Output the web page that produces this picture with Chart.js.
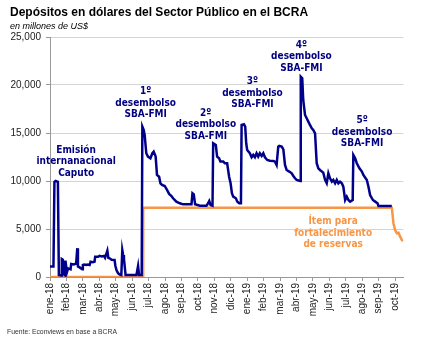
<!DOCTYPE html>
<html>
<head>
<meta charset="utf-8">
<script src="https://cdn.jsdelivr.net/npm/chart.js@4.4.1/dist/chart.umd.min.js"></script>
<style>
  html, body { margin: 0; padding: 0; background: #fff; }
  #chart { display: block; }
</style>
</head>
<body>
<canvas id="chart" width="445" height="339"></canvas>
<script>
// eje x: meses transcurridos desde ene-18 (0 = 1 ene 2018)
const meses = ['ene-18', 'feb-18', 'mar-18', 'abr-18', 'may-18', 'jun-18', 'jul-18', 'ago-18', 'sep-18', 'oct-18', 'nov-18', 'dic-18',
  'ene-19', 'feb-19', 'mar-19', 'abr-19', 'may-19', 'jun-19', 'jul-19', 'ago-19', 'sep-19', 'oct-19']

// depósitos en dólares del sector público (millones de US$)
const mesDep = [
  0.00, 0.21, 0.27, 0.34, 0.48, 0.54, 0.68, 0.72, 0.78, 0.82, 0.90, 0.94, 1.03, 1.10, 1.25, 1.29, 1.45, 1.59, 1.66, 1.70,
  1.80, 1.96, 2.00, 2.10, 2.21, 2.30, 2.41, 2.47, 2.60, 2.71, 2.75, 2.92, 3.02, 3.15, 3.28, 3.35, 3.49, 3.55, 3.63, 3.75,
  3.93, 3.98, 4.05, 4.14, 4.25, 4.34, 4.40, 4.45, 4.50, 4.60, 5.00, 5.26, 5.36, 5.42, 5.58,
  5.62, 5.70, 5.76, 5.86, 5.96, 6.11, 6.23, 6.31, 6.43, 6.51, 6.64, 6.72, 6.82, 6.98, 7.12, 7.25, 7.39, 7.49, 7.69, 7.90,
  8.10, 8.61, 8.67, 8.75, 8.83, 9.12, 9.52, 9.62, 9.69, 9.77, 9.89,
  9.93, 9.97, 10.09, 10.17, 10.29, 10.37, 10.54, 10.64, 10.78, 10.90, 10.99, 11.07, 11.15, 11.31, 11.40, 11.52, 11.62,
  11.66, 11.80, 11.88, 11.94, 12.00, 12.16, 12.27, 12.37, 12.47, 12.57, 12.67, 12.77, 12.88, 12.98, 13.08, 13.22, 13.38,
  13.59, 13.69, 13.79, 13.89, 13.95, 14.10, 14.20, 14.30, 14.40, 14.56, 14.71, 14.81, 14.91, 15.01, 15.22,
  15.26, 15.35, 15.41, 15.52, 15.62, 15.72, 15.82, 15.93, 16.02, 16.13, 16.23, 16.33, 16.43, 16.63, 16.74, 16.84, 16.94,
  17.04, 17.15, 17.24, 17.35, 17.45, 17.55, 17.65, 17.76, 17.85, 17.96, 18.06, 18.16, 18.26, 18.42,
  18.46, 18.57, 18.67, 18.83, 18.98, 19.07, 19.28, 19.38, 19.48, 19.65, 19.79, 19.93, 19.99, 20.80
]
const depositos = [
  1100, 1100, 9900, 10000, 9900, 200, 150, 1870, 1800, 300, 200, 1700, 500, 900, 800, 1350, 1300, 1400, 3000, 1100,
  1000, 800, 1250, 1300, 1250, 1300, 1250, 1600, 1550, 1600, 2100, 2100, 2200, 2150, 2200, 2000, 2750, 2000, 1950, 1800,
  1770, 1150, 700, 400, 250, 200, 2800, 2300, 1900, 200, 200, 200, 1150, 200, 200,
  15660, 15320, 14800, 12890, 12540, 12370, 12890, 13060, 12540, 10630, 10450, 9760, 9590, 9480, 9070, 8650, 8440, 8200, 7850, 7680,
  7570, 7570, 8720, 8610, 7570, 7430, 7430, 7680, 7920, 7500, 7430,
  13930, 13930, 13750, 12540, 12370, 12020, 12020, 11850, 11850, 10450, 9760, 8720, 8370, 8200, 7850, 7680, 7680,
  15840, 15910, 15660, 13930, 13230, 12890, 12470, 12710, 12470, 12890, 12540, 12890, 12610, 12890, 12470, 12190, 12120,
  12090, 12020, 11670, 13580, 13650, 13580, 13300, 11670, 11150, 10980, 10800, 10520, 10280, 10110, 10000,
  20870, 20700, 18440, 16880, 16530, 16190, 15840, 15490, 15320, 14970, 11850, 11320, 11150, 10870, 10110, 9760, 10800,
  10280, 9930, 10110, 9760, 10110, 9760, 9930, 9760, 9410, 8020, 8370, 8020, 7850, 8020,
  12710, 12370, 11850, 11320, 10980, 10630, 10110, 9410, 8540, 8020, 7850, 7680, 7400, 7400
]

// ítem para fortalecimiento de reservas (millones de US$)
const mesItem = [0.00, 5.66, 5.67, 20.80, 20.86, 20.90, 21.00, 21.11, 21.21, 21.31, 21.41, 21.50]
const item = [0, 0, 7220, 7220, 6290, 5600, 4900, 4550, 4600, 4200, 3860, 3750]

// textos sobre el gráfico, anclados en coordenadas de datos
const notas = [
  { lineas: ['Emisión', 'internanacional', 'Caputo'], x: 1.59, y: 13230, color: '#000080' },
  { lineas: ['1º', 'desembolso', 'SBA-FMI'], x: 5.82, y: 19310, color: '#000080' },
  { lineas: ['2º', 'desembolso', 'SBA-FMI'], x: 9.48, y: 17060, color: '#000080' },
  { lineas: ['3º', 'desembolso', 'SBA-FMI'], x: 12.32, y: 20350, color: '#000080' },
  { lineas: ['4º', 'desembolso', 'SBA-FMI'], x: 15.30, y: 24170, color: '#000080' },
  { lineas: ['5º', 'desembolso', 'SBA-FMI'], x: 18.99, y: 16290, color: '#000080' },
  { lineas: ['Ítem para', 'fortalecimiento', 'de reservas'], x: 17.23, y: 5760, color: '#F79646' }
]

const titulo = 'Depósitos en dólares del Sector Público en el BCRA'
const subtitulo = 'en millones de US$'
const fuente = 'Fuente: Econviews en base a BCRA'

const pts = (xs, ys) => xs.map((x, i) => ({ x, y: ys[i] }))

const textos = {
  id: 'textos',
  afterDatasetsDraw(chart) {
    const { ctx, scales: { x, y } } = chart
    ctx.save()
    ctx.textAlign = 'center'
    ctx.textBaseline = 'middle'
    ctx.font = 'bold 10px "DejaVu Sans Condensed", "DejaVu Sans", sans-serif'
    notas.forEach(n => {
      ctx.fillStyle = n.color
      const px = x.getPixelForValue(n.x)
      const py = y.getPixelForValue(n.y)
      n.lineas.forEach((l, i) => ctx.fillText(l, px, py + i * 11.5))
    })
    ctx.restore()
  },
  afterDraw(chart) {
    const ctx = chart.ctx
    ctx.save()
    ctx.textAlign = 'left'
    ctx.textBaseline = 'alphabetic'
    ctx.fillStyle = '#000'
    ctx.font = 'bold 12px "Liberation Sans", Arial, sans-serif'
    ctx.fillText(titulo, 10, 16)
    ctx.font = 'italic 9px "Liberation Sans", Arial, sans-serif'
    ctx.fillText(subtitulo, 10, 28.5)
    ctx.fillStyle = '#333'
    ctx.font = '6.8px "Liberation Sans", Arial, sans-serif'
    ctx.fillText(fuente, 7, 334)
    ctx.restore()
  }
}

new Chart(document.getElementById('chart'), {
  type: 'line',
  data: {
    datasets: [
      {
        data: pts(mesDep, depositos),
        borderColor: '#00008B',
        borderWidth: 2.5,
        pointRadius: 0,
        tension: 0,
        fill: false
      },
      {
        data: pts(mesItem, item),
        borderColor: '#F79646',
        borderWidth: 2.5,
        pointRadius: 0,
        tension: 0,
        fill: false
      }
    ]
  },
  options: {
    responsive: false,
    animation: false,
    layout: { padding: { left: 0, top: 37, right: 41.7, bottom: 0 } },
    plugins: {
      legend: { display: false },
      tooltip: { enabled: false },
      title: { display: false }
    },
    scales: {
      x: {
        type: 'linear',
        min: 0,
        max: 21.5,
        afterFit: s => { s.height = 62 },
        border: { color: '#999', width: 1 },
        grid: { drawOnChartArea: false, drawTicks: true, tickLength: 4, tickColor: '#999' },
        ticks: {
          stepSize: 1,
          includeBounds: false,
          autoSkip: false,
          minRotation: 90,
          maxRotation: 90,
          padding: 2,
          color: '#222',
          font: { family: '"Liberation Sans", Arial, sans-serif', size: 10 },
          callback: v => Number.isInteger(v) ? (meses[v] || '') : ''
        }
      },
      y: {
        min: 0,
        max: 25000,
        afterFit: s => { s.width = 50 },
        border: { color: '#999', width: 1 },
        grid: {
          color: '#d4d4d4',
          borderDash: [3, 2],
          tickLength: 4,
          tickColor: '#999',
          tickBorderDash: []
        },
        ticks: {
          stepSize: 5000,
          padding: 5,
          color: '#222',
          font: { family: '"Liberation Sans", Arial, sans-serif', size: 10 },
          callback: v => v.toLocaleString('en-US')
        }
      }
    }
  },
  plugins: [textos]
})
</script>
</body>
</html>
